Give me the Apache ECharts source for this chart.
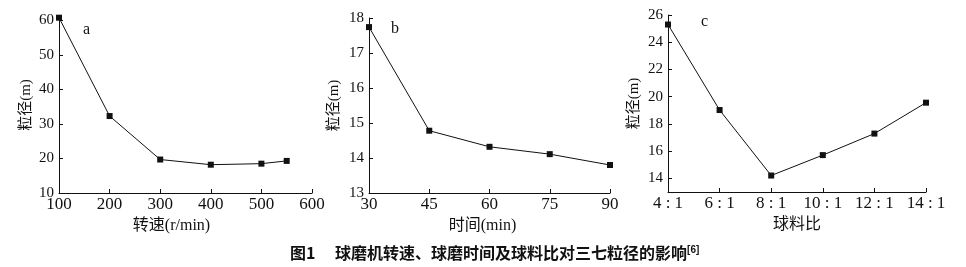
<!DOCTYPE html>
<html><head><meta charset="utf-8">
<script src="https://cdn.jsdelivr.net/npm/echarts@6/dist/echarts.min.js"></script>
<style>html,body{margin:0;padding:0;background:#fff}#c{width:966px;height:267px}</style>
</head><body><div id="c"></div>
<script>
// Panel a: rotation speed
const speedX = [100, 200, 300, 400, 500, 550];
const speedY = [60.8, 32.3, 19.7, 18.2, 18.5, 19.3];
const speedTicks = [10, 20, 30, 40, 50, 60];
// Panel b: milling time
const timeX = [30, 45, 60, 75, 90];
const timeY = [17.74, 14.78, 14.32, 14.11, 13.80];
const timeTicks = [13, 14, 15, 16, 17, 18];
// Panel c: ball-to-material ratio
const ratioX = [4, 6, 8, 10, 12, 14];
const ratioY = [25.3, 19.02, 14.21, 15.71, 17.29, 19.56];
const ratioTicks = [14, 16, 18, 20, 22, 24, 26];

const serif = '"Liberation Serif","Noto Sans CJK SC",serif';
const chart = echarts.init(document.getElementById('c'), null, {renderer: 'canvas'});

function xAx(i, min, max, interval, name, shift, fmt) {
  return {
    type: 'value', gridIndex: i, min: min, max: max, interval: interval,
    name: name, nameLocation: 'middle', nameGap: 22,
    nameTextStyle: {fontFamily: serif, fontSize: 16, color: '#111', padding: [0, shift, 0, 0]},
    axisLine: {show: true, lineStyle: {color: '#111', width: 1}},
    axisTick: {show: true, inside: true, length: 4, lineStyle: {color: '#111'}},
    axisLabel: {fontFamily: serif, fontSize: 17, color: '#111', margin: 3, formatter: fmt},
    splitLine: {show: false}
  };
}
function yAx(i, min, max, ticks, gap) {
  return {
    type: 'value', gridIndex: i, min: min, max: max,
    name: '粒径(m)', nameLocation: 'middle', nameGap: gap, nameRotate: 90,
    nameTextStyle: {fontFamily: serif, fontSize: 15, color: '#111'},
    axisLine: {show: true, lineStyle: {color: '#111', width: 1}},
    axisTick: {show: true, inside: true, length: 4, lineStyle: {color: '#111'}, customValues: ticks},
    axisLabel: {fontFamily: serif, fontSize: 15, color: '#111', margin: 5, customValues: ticks},
    splitLine: {show: false}
  };
}
function ser(i, xs, ys) {
  return {
    type: 'line', xAxisIndex: i, yAxisIndex: i, clip: false,
    data: xs.map((x, k) => [x, ys[k]]),
    symbol: 'rect', symbolSize: 6, showSymbol: true,
    lineStyle: {color: '#111', width: 1},
    itemStyle: {color: '#111'}, animation: false
  };
}

chart.setOption({
  animation: false,
  grid: [
    {left: 59, top: 17, width: 253, height: 176},
    {left: 369, top: 18, width: 241, height: 175},
    {left: 668, top: 15, width: 258, height: 177}
  ],
  xAxis: [
    xAx(0, 100, 600, 100, '转速(r/min)', 28),
    xAx(1, 30, 90, 15, '时间(min)', 14),
    xAx(2, 4, 14, 2, '球料比', 0, v => v + ' : 1')
  ],
  yAxis: [
    yAx(0, 10, 61, speedTicks, 25),
    yAx(1, 13, 18, timeTicks, 27),
    yAx(2, 13, 26, ratioTicks, 26)
  ],
  series: [ser(0, speedX, speedY), ser(1, timeX, timeY), ser(2, ratioX, ratioY)],
  title: [
    {text: 'a', left: 78, top: 17, textStyle: {fontFamily: serif, fontSize: 16, fontWeight: 'normal', color: '#111'}},
    {text: 'b', left: 386, top: 16, textStyle: {fontFamily: serif, fontSize: 16, fontWeight: 'normal', color: '#111'}},
    {text: 'c', left: 696, top: 9, textStyle: {fontFamily: serif, fontSize: 16, fontWeight: 'normal', color: '#111'}},
    {text: '{m|图1　 球磨机转速、球磨时间及球料比对三七粒径的影响}{s|[6]}', left: 285, top: 240,
     textStyle: {rich: {
       m: {fontFamily: '"Noto Sans CJK SC",sans-serif', fontSize: 16, fontWeight: 'bold', color: '#111'},
       s: {fontFamily: '"Liberation Sans",sans-serif', fontSize: 10, color: '#111', verticalAlign: 'top', padding: [0, 0, 6, 0]}
     }}}
  ]
});
</script></body></html>
